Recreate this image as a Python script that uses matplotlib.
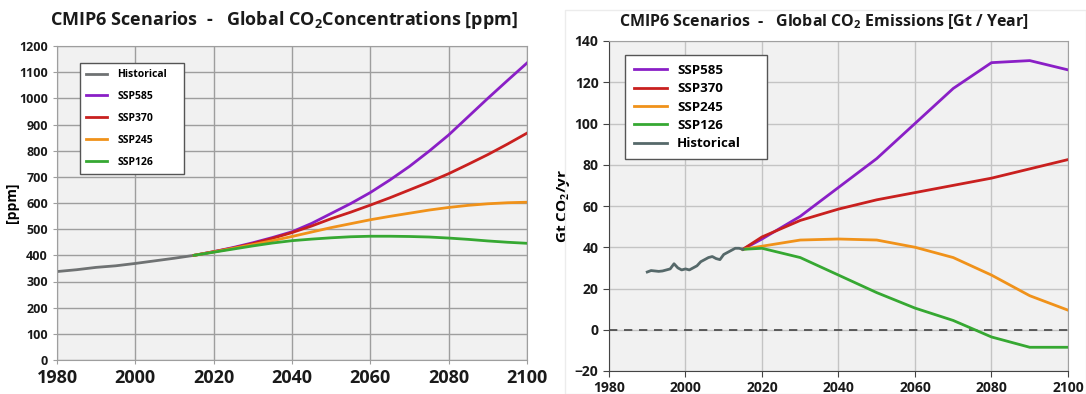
import matplotlib
matplotlib.use("Agg")
import matplotlib.pyplot as plt
from matplotlib.patches import Rectangle

plt.rcParams['font.family'] = ['Open Sans', 'DejaVu Sans']
plt.rcParams['mathtext.fontset'] = 'custom'
plt.rcParams['mathtext.rm'] = 'Open Sans:bold'
plt.rcParams['mathtext.bf'] = 'Open Sans:bold'

# --- concentrations (ppm) ---
hist_conc_years = [1980, 1985, 1990, 1995, 2000, 2005, 2010, 2015]
hist_conc = [338, 345, 354, 360, 369, 379, 389, 400]

scen_years = [2015, 2020, 2025, 2030, 2035, 2040, 2045, 2050, 2055,
              2060, 2065, 2070, 2075, 2080, 2085, 2090, 2095, 2100]
conc_585 = [400, 414, 430, 448, 468, 490, 522, 560, 598,
            640, 688, 740, 798, 860, 930, 1000, 1068, 1135]
conc_370 = [400, 414, 428, 445, 465, 487, 512, 540, 565,
            592, 620, 650, 680, 712, 748, 785, 825, 867]
conc_245 = [400, 413, 427, 441, 456, 472, 489, 506, 521,
            536, 549, 561, 573, 583, 591, 597, 601, 603]
conc_126 = [400, 412, 424, 436, 447, 456, 462, 467, 471,
            473, 473, 472, 470, 466, 461, 455, 450, 446]

# --- emissions (Gt CO2 / yr) ---
hist_em_years = list(range(1990, 2016))
hist_em = [28, 28.7, 28.5, 28.3, 28.5, 29, 29.5, 32, 30, 29, 29.5, 29, 30,
           31, 33, 34, 35, 35.5, 34.5, 34, 36.5, 37.5, 38.5, 39.5, 39.5, 39]

em_years = [2015, 2020, 2030, 2040, 2050, 2060, 2070, 2080, 2090, 2100]
em_585 = [39, 44, 55, 69, 83, 100, 117, 129.5, 130.5, 126]
em_370 = [39, 45, 53, 58.5, 63, 66.5, 70, 73.5, 78, 82.5]
em_245 = [39, 40.5, 43.5, 44, 43.5, 40, 35, 26.5, 16.5, 9.5]
em_126 = [39, 39.5, 35, 26.5, 18, 10.5, 4.5, -3.5, -8.5, -8.5]

c_585 = '#8a1fc6'
c_370 = '#c9201f'
c_245 = '#f0921a'
c_126 = '#36a832'
c_hist_l = '#6f7273'
c_hist_r = '#56696a'

W, H = 1086, 394
fig = plt.figure(figsize=(W / 100, H / 100), dpi=100)

# faint panel border around the right chart
fig.patches.append(Rectangle((565 / W, 0), 1 - 565 / W, 1 - 10 / H,
                             transform=fig.transFigure, fill=False,
                             edgecolor='#ececec', linewidth=1))

# ---------------- left: concentrations ----------------
ax1 = fig.add_axes([57 / W, 1 - 360 / H, 470 / W, 314 / H])
ax1.set_facecolor('#f1f1f1')
lw = 2.0
ax1.plot(hist_conc_years, hist_conc, color=c_hist_l, lw=lw, label='Historical')
ax1.plot(scen_years, conc_585, color=c_585, lw=lw, label='SSP585')
ax1.plot(scen_years, conc_370, color=c_370, lw=lw, label='SSP370')
ax1.plot(scen_years, conc_245, color=c_245, lw=lw, label='SSP245')
ax1.plot(scen_years, conc_126, color=c_126, lw=lw, label='SSP126')

ax1.set_xlim(1980, 2100)
ax1.set_ylim(0, 1200)
ax1.set_xticks(range(1980, 2101, 20))
ax1.set_yticks(range(0, 1201, 100))
ax1.grid(True, color='#9e9e9e', lw=1)
ax1.set_axisbelow(True)
for s in ax1.spines.values():
    s.set_color('#9e9e9e')
ax1.tick_params(axis='both', colors='#9e9e9e', length=3)
for lab in ax1.get_xticklabels():
    lab.set_fontsize(13)
    lab.set_fontweight('bold')
    lab.set_color('#1a1a1a')
for lab in ax1.get_yticklabels():
    lab.set_fontsize(9)
    lab.set_fontweight('bold')
    lab.set_color('#1a1a1a')
ax1.set_ylabel('[ppm]', fontsize=10, fontweight='bold', labelpad=0)
fig.text(284 / W, 1 - 20 / H, 'CMIP6 Scenarios  -   Global CO$_2$Concentrations [ppm]',
         ha='center', va='center', fontsize=13, fontweight='bold', color='#1a1a1a')

leg1 = ax1.legend(loc='upper left', bbox_to_anchor=(0.049, 0.896, 0.221, 0.05),
                  mode='expand', fancybox=False, framealpha=1, edgecolor='#555555',
                  prop={'size': 7.5, 'weight': 'bold'}, handlelength=2.0,
                  borderpad=0.6, labelspacing=1.05, handletextpad=1.0,
                  borderaxespad=0)
leg1.get_frame().set_linewidth(1)

# ---------------- right: emissions ----------------
ax2 = fig.add_axes([609 / W, 1 - 371 / H, 459 / W, 330 / H])
ax2.set_facecolor('#f1f1f1')
ax2.plot(em_years, em_585, color=c_585, lw=lw, label='SSP585')
ax2.plot(em_years, em_370, color=c_370, lw=lw, label='SSP370')
ax2.plot(em_years, em_245, color=c_245, lw=lw, label='SSP245')
ax2.plot(em_years, em_126, color=c_126, lw=lw, label='SSP126')
ax2.plot(hist_em_years, hist_em, color=c_hist_r, lw=lw, label='Historical')
ax2.axhline(0, color='#444444', lw=1.2, ls=(0, (5, 4)), zorder=1.5)

ax2.set_xlim(1980, 2100)
ax2.set_ylim(-20, 140)
ax2.set_xticks(range(1980, 2101, 20))
ax2.set_yticks(range(-20, 141, 20))
ax2.grid(True, color='#c4c4c4', lw=1)
ax2.set_axisbelow(True)
for s in ax2.spines.values():
    s.set_color('#a0a0a0')
ax2.spines['left'].set_color('#444444')
ax2.spines['bottom'].set_color('#444444')
ax2.tick_params(axis='both', colors='#444444', length=4, labelsize=10)
for lab in ax2.get_xticklabels() + ax2.get_yticklabels():
    lab.set_fontweight('bold')
    lab.set_color('#1a1a1a')
ax2.set_ylabel('Gt CO$_2$/yr', fontsize=11, fontweight='bold', labelpad=2)
fig.text(824 / W, 1 - 22 / H, 'CMIP6 Scenarios  -   Global CO$_2$ Emissions [Gt / Year]',
         ha='center', va='center', fontsize=11.5, fontweight='bold', color='#1a1a1a')

leg2 = ax2.legend(loc='upper left', bbox_to_anchor=(0.035, 0.928, 0.309, 0.03),
                  mode='expand', fancybox=False, framealpha=1, edgecolor='#555555',
                  prop={'size': 9.5, 'weight': 'bold'}, handlelength=2.5,
                  borderpad=0.7, labelspacing=0.4, handletextpad=0.75,
                  borderaxespad=0)
leg2.get_frame().set_linewidth(1)

fig.savefig('out.png', dpi=100)
